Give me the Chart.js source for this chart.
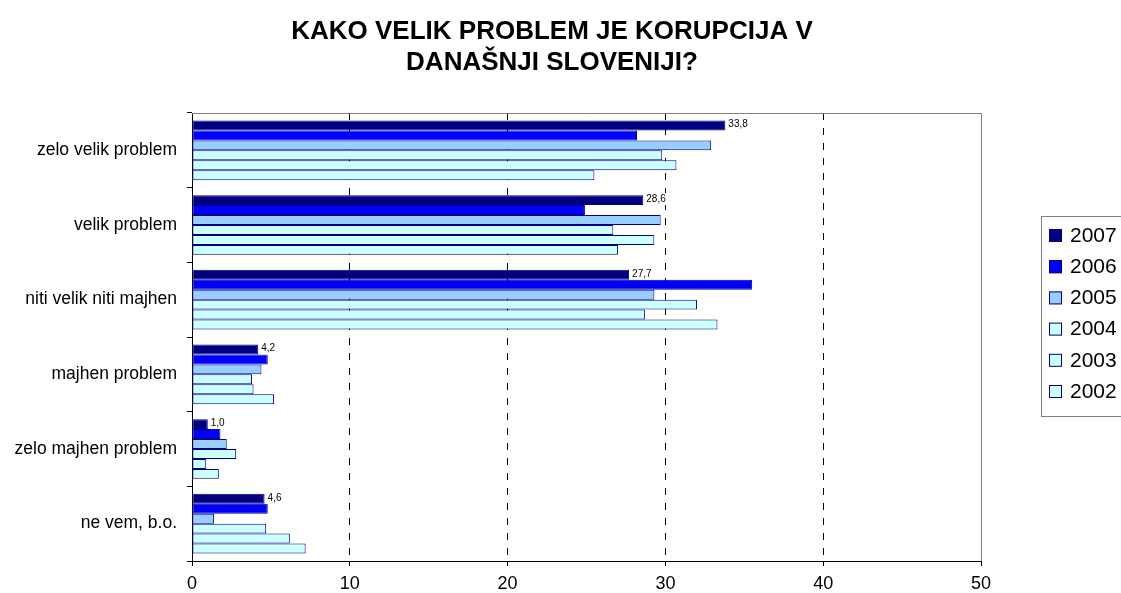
<!DOCTYPE html>
<html>
<head>
<meta charset="utf-8">
<script src="https://cdn.jsdelivr.net/npm/chart.js@4/dist/chart.umd.min.js"></script>
<style>
  html, body { margin: 0; padding: 0; background: #fff; }
  #wrap { width: 1121px; height: 593px; }
</style>
</head>
<body>
<div id="wrap"><canvas id="corrChart" width="1121" height="593"></canvas></div>
<script>
const categories = [
  "zelo velik problem",
  "velik problem",
  "niti velik niti majhen",
  "majhen problem",
  "zelo majhen problem",
  "ne vem, b.o.",
];
const years = ["2007", "2006", "2005", "2004", "2003", "2002"];
const v2007 = [33.8, 28.6, 27.7, 4.2, 1.0, 4.6];
const v2006 = [28.2, 24.9, 35.5, 4.8, 1.8, 4.8];
const v2005 = [32.9, 29.7, 29.3, 4.4, 2.2, 1.4];
const v2004 = [29.8, 26.7, 32.0, 3.8, 2.8, 4.7];
const v2003 = [30.7, 29.3, 28.7, 3.9, 0.9, 6.2];
const v2002 = [25.5, 27.0, 33.3, 5.2, 1.7, 7.2];
const xTicks = [0, 10, 20, 30, 40, 50];
const titleLines = ["KAKO VELIK PROBLEM JE KORUPCIJA V", "DANAŠNJI SLOVENIJI?"];

const fills = ["#000080", "#0000FF", "#99CCFF", "#CCFFFF", "#CCFFFF", "#CCFFFF"];
const FONT = "'Liberation Sans', Arial, sans-serif";

const seriesValues = [v2007, v2006, v2005, v2004, v2003, v2002];

// title drawn by hand so it can sit a bit left of the canvas centre
const titlePlugin = {
  id: "titleText",
  afterDraw(chart) {
    const c = chart.ctx;
    c.save();
    c.fillStyle = "#000";
    c.font = "bold 26px " + FONT;
    c.textAlign = "center";
    c.textBaseline = "middle";
    c.fillText(titleLines[0], 552, 32);
    c.fillText(titleLines[1], 552, 63);
    c.restore();
  },
};

// grey frame on top/right of the plot
const framePlugin = {
  id: "frame",
  beforeDatasetsDraw(chart) {
    const { ctx: c, chartArea: a } = chart;
    c.save();
    c.strokeStyle = "#808080";
    c.lineWidth = 1;
    c.beginPath();
    c.moveTo(a.left, a.top + 0.5);
    c.lineTo(a.right + 0.5, a.top + 0.5);
    c.lineTo(a.right + 0.5, a.bottom);
    c.stroke();
    c.restore();
  },
};

// value labels only on the 2007 bars
const labelPlugin = {
  id: "valueLabels",
  afterDatasetsDraw(chart) {
    const c = chart.ctx;
    const meta = chart.getDatasetMeta(0);
    c.save();
    c.font = "10px " + FONT;
    c.textBaseline = "middle";
    meta.data.forEach((bar, i) => {
      const txt = v2007[i].toFixed(1).replace(".", ",");
      const w = c.measureText(txt).width;
      const x = bar.x + 3;
      const y = bar.y - 1;
      c.fillStyle = "#fff";
      c.fillRect(x - 1, y - 6, w + 2, 12);
      c.fillStyle = "#000";
      c.fillText(txt, x, y);
    });
    c.restore();
  },
};

// boxed legend on the right
const legendPlugin = {
  id: "boxLegend",
  afterDraw(chart) {
    const c = chart.ctx;
    c.save();
    c.strokeStyle = "#808080";
    c.lineWidth = 1;
    c.strokeRect(1041.5, 216.5, 100, 200);
    c.font = "21px " + FONT;
    c.textBaseline = "middle";
    chart.data.datasets.forEach((ds, i) => {
      const y = 235 + i * 31.2;
      c.fillStyle = ds.backgroundColor;
      c.fillRect(1049, y - 6, 13, 13);
      c.strokeStyle = "#000080";
      c.strokeRect(1049.5, y - 5.5, 12, 12);
      c.fillStyle = "#000";
      c.fillText(ds.label, 1070, y + 1);
    });
    c.restore();
  },
};

const ctx = document.getElementById("corrChart").getContext("2d");

new Chart(ctx, {
  type: "bar",
  data: {
    labels: categories,
    datasets: years.map((yr, i) => ({
      label: yr,
      data: seriesValues[i],
      backgroundColor: fills[i],
      borderColor: "#000080",
      borderWidth: 1,
      borderSkipped: false,
      categoryPercentage: 0.8,
      barPercentage: 1.0,
    })),
  },
  options: {
    indexAxis: "y",
    responsive: false,
    animation: false,
    layout: {
      padding: { top: 113, right: 140, bottom: 0, left: 0 },
    },
    scales: {
      x: {
        min: 0,
        max: 50,
        afterBuildTicks: (scale) => {
          scale.ticks = xTicks.map((v) => ({ value: v }));
        },
        afterFit: (scale) => {
          scale.height = 32;
        },
        ticks: {
          color: "#000",
          font: { family: FONT, size: 18 },
          padding: 7,
        },
        grid: {
          color: (c) =>
            c.tick && (c.tick.value === 0 || c.tick.value === 50)
              ? "rgba(0,0,0,0)"
              : "#000",
          tickColor: "#000",
          tickLength: 5,
        },
        border: { display: true, color: "#000", dash: [7, 8] },
      },
      y: {
        afterFit: (scale) => {
          scale.width = 192;
        },
        ticks: {
          color: "#000",
          font: { family: FONT, size: 17.5 },
          padding: 10,
        },
        grid: {
          drawOnChartArea: false,
          offset: true,
          color: "#000",
          tickLength: 5,
        },
        border: { display: true, color: "#000" },
      },
    },
    plugins: {
      legend: { display: false },
      title: { display: false },
      tooltip: { enabled: false },
    },
  },
  plugins: [framePlugin, labelPlugin, legendPlugin, titlePlugin],
});
</script>
</body>
</html>
